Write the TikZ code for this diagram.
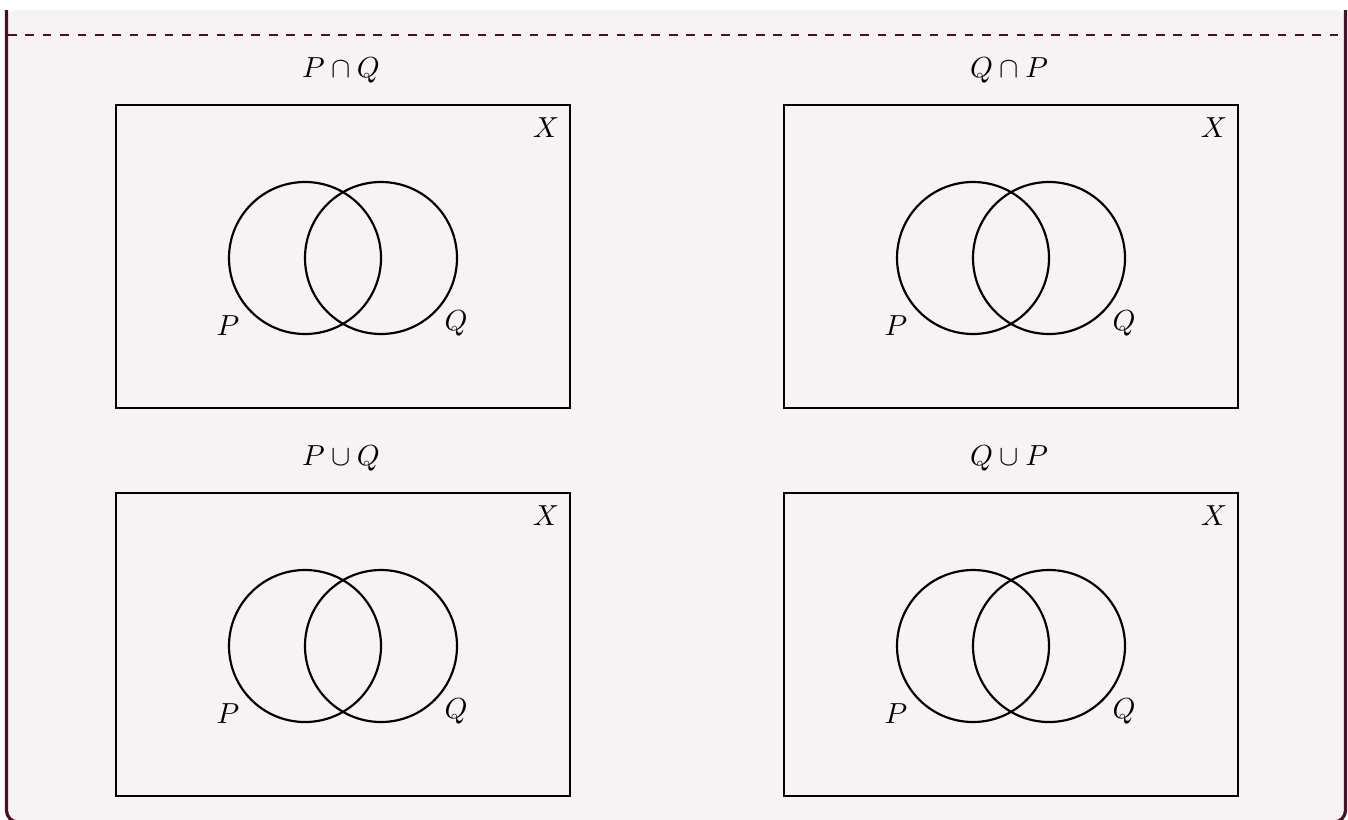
\documentclass[tikz,border=0pt]{standalone}
\usepackage{amssymb}
\definecolor{frm}{RGB}{75,16,38}
\definecolor{bk}{RGB}{247,243,244}
\begin{document}
\begin{tikzpicture}[x=0.345pt,y=-0.345pt,
  setbox/.style={draw=black,line width=0.75pt},
  vc/.style={draw=black,line width=0.75pt},
  lab/.style={inner sep=0pt,anchor=center}]
\useasboundingbox (0,0) rectangle (1348,819);
\begin{scope}
\clip (0,0) rectangle (1348,819);
\fill[bk,rounded corners=4pt] (6,10) -- (6,822) -- (1346,822) -- (1346,10) -- cycle;
\draw[frm,line width=1.1pt,rounded corners=4pt] (6.5,10) -- (6.5,822) -- (1345.5,822) -- (1345.5,10);
\end{scope}
\coordinate (dl) at (8,35);
\coordinate (dr) at (1344,35);
\draw[frm,line width=0.45pt,dashed] (dl) -- (dr);
\foreach \ox/\oy/\t/\n in {0/0/{P\cap Q}/a, 668/0/{Q\cap P}/b, 0/388/{P\cup Q}/c, 668/388/{Q\cup P}/d}{
  \begin{scope}[shift={(\ox,\oy)}]
  \node[setbox,minimum width=454*0.345pt,minimum height=303*0.345pt,inner sep=0pt] (box\n) at (343,256.5) {};
  \node[lab] (t\n) at (341,70) {$\t$};
  \node[lab] (x\n) at (546,128) {$X$};
  \draw[vc] (305,258) circle [radius=76];
  \draw[vc] (381,258) circle [radius=76];
  \node[lab] (p\n) at (228,326) {$P$};
  \node[lab] (q\n) at (456,323) {$Q$};
  \end{scope}
}
\end{tikzpicture}
\end{document}
